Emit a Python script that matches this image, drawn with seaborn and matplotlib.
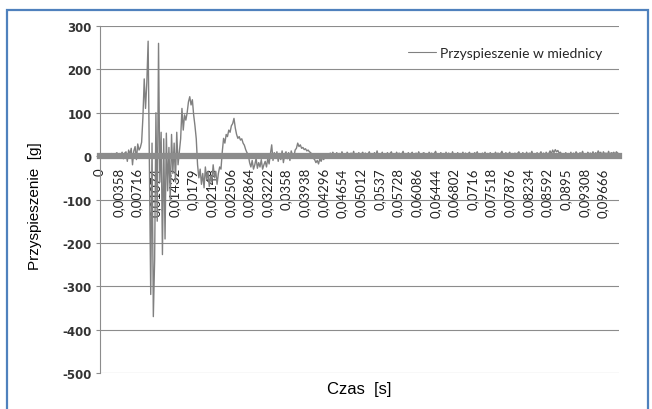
import numpy as np
import pandas as pd
import matplotlib
matplotlib.use("Agg")
import matplotlib.pyplot as plt
import matplotlib.patches as mpatches
import seaborn as sns

# ---------------------------------------------------------------------------
# Data (acceleration in g, one sample every 0.25 ms)
# ---------------------------------------------------------------------------
DT = 0.00025

pre_impact = [2, -3, 4, 1, -2, 5, 0, 3, -4, 6, 2, -1, 5, 8, -3, 6, 2, 9, -6, 7,
              10, -12, 14, 4, 18, -20, 12, 22, -8, 28, 14, 20, 32]
impact = [90, 178, 110, 170, 265, -20, -319,
          30, -370, -240, 100, -150, 260, -60, 55, -227, 40, -191, 53, -80, 20,
          -100, 50, -40, 30, -60, 55,
          -20, 10, 40, 110, 60, 95, 83, 100, 125, 137, 118, 130, 95, 70, 40,
          -20, -50, -30, -65, -40]
rebound = [-73, -25, -55, -35, -70, -45, -60, -20, -50, -35, -65, -40, -25, -30,
           10, 41, 30, 50, 45, 60,
           55, 70, 75, 87, 65, 50, 41, 45, 37, 40, 30, 25, 15, 8, 3, -15, -25,
           -10, -30, -20,
           -5, -28, -15, -25, -8, -30, -20, -12, -25, -5, -18, 5, 26, -10, 8,
           -5, 10, -12, 6, -8,
           12, -15, 4, 10, -6, 8, -10, 12, 2, -4, 14, 18, 30, 22, 26, 18, 20,
           15, 17, 12,
           14, 10, 8, 2, -5, -8, -15, -10, -18, -6, -12, -3, -8, 2, -4, 5, -2,
           7, 1, 9]
settle = [3, -2, 8, 0, 6, -4, 10, 2, 5, -1, 9, 4, -3, 7, 1, 11, -2, 6, 3, 8,
          -1, 5, 9, 0, 7, -3, 4, 10, 2, 6, -2, 8, 1, 12, -1, 5, 3, 9, -4, 6,
          2, 8, -1, 6, 10, 0, 4, -3, 9, 3, 7, -2, 5, 11, 1, 6, -1, 8, 2, 5,
          9, -2, 4, 7, 0, 10, 3, -3, 6, 8, 1, 5, -1, 9, 4, 7, -2, 6, 11, 2,
          5, -1, 8, 3, 6, -3, 9, 1, 7, 4, -2, 10, 2, 5, 0, 8, -1, 6, 3, 9,
          1, 7, -2, 5, 9, 2, 6, -1, 8, 4, 10, 0, 5, -3, 7, 3, 9, 1, 6, -2,
          8, 2, 5, -1, 9, 4, 7, 0, 6, 11, 2, -2, 8, 3, 5, 9, -1, 6, 4, 7,
          0, 6, 10, 3, -2, 8, 5, 1, 9, -1, 7, 4, 11, 2, 6, -3, 8, 3, 5, 10,
          2, 7, -1, 9, 4, 6, 12, 5, 14, 8, 15, 10, 13, 7, 9, 3, 6, -1, 8, 4,
          6, 1, 9, -2, 7, 3, 10, 5, 0, 8, 4, 11, 2, 6, -1, 9, 5, 7, 3, 10,
          1, 8, 4, 12, 6, 9, -1, 10, 5, 7, 3, 11, 2, 8, 6, 9, 4, 10, 7, 5]

tick_times = [0, 0.00358, 0.00716, 0.01074, 0.01432, 0.0179, 0.02148, 0.02506,
              0.02864, 0.03222, 0.0358, 0.03938, 0.04296, 0.04654, 0.05012,
              0.0537, 0.05728, 0.06086, 0.06444, 0.06802, 0.0716, 0.07518,
              0.07876, 0.08234, 0.08592, 0.0895, 0.09308, 0.09666]
y_ticks = [300, 200, 100, 0, -100, -200, -300, -400, -500]

SERIES_LABEL = "Przyspieszenie w miednicy"
LINE_COLOR = "#808080"
GRID_COLOR = "#8c8c8c"
FRAME_COLOR = "#4f81bd"

accel = pre_impact + impact + rebound + settle
df = pd.DataFrame({"czas": np.arange(len(accel)) * DT, "a": accel})

# ---------------------------------------------------------------------------
sns.set_theme(style="white")
plt.rcParams["font.family"] = ["Liberation Sans", "DejaVu Sans"]
plt.rcParams["axes.unicode_minus"] = False

fig = plt.figure(figsize=(6.52, 4.10), dpi=100)
ax = fig.add_axes([100 / 652, 1 - 374 / 410, 519 / 652, 347 / 410])

sns.lineplot(data=df, x="czas", y="a", ax=ax, color=LINE_COLOR,
             linewidth=1.0, label=SERIES_LABEL, legend=False)

ax.set_xlim(0, df["czas"].iloc[-1])
ax.set_ylim(-500, 300)
ax.set_yticks(y_ticks)
ax.yaxis.grid(True, color=GRID_COLOR, linewidth=0.8)
ax.xaxis.grid(False)

# category axis crossing at zero, drawn as a thick grey band
for side in ["top", "right"]:
    ax.spines[side].set_visible(False)
ax.spines["bottom"].set_position(("data", 0))
ax.spines["bottom"].set_linewidth(4.5)
ax.spines["bottom"].set_color(GRID_COLOR)
ax.spines["left"].set_color(GRID_COLOR)
ax.spines["left"].set_linewidth(0.8)

ax.set_xticks(tick_times)
ax.set_xticklabels([f"{v:g}".replace(".", ",") for v in tick_times],
                   rotation=90, family="Lato", fontsize=9.5, color="#222222")
ax.tick_params(axis="x", length=0, pad=8)
ax.tick_params(axis="y", left=True, length=3, width=0.8, color=GRID_COLOR, pad=3)
for lbl in ax.get_yticklabels():
    lbl.set_family("DejaVu Sans")
    lbl.set_fontweight("bold")
    lbl.set_fontsize(8.5)
    lbl.set_color("#333333")

ax.set_ylabel("Przyspieszenie  [g]", fontsize=11, color="black")
ax.yaxis.set_label_coords(-0.125, 0.484)
ax.yaxis.label.set_va("center")
ax.set_xlabel("Czas  [s]", fontsize=12, color="black")
ax.xaxis.set_label_coords(0.5, -0.046)
ax.xaxis.label.set_va("center")

handle = plt.Line2D([], [], color=LINE_COLOR, linewidth=0.8)
fig.legend([handle], [SERIES_LABEL], loc="center left",
           bbox_to_anchor=(408 / 652, 1 - 54 / 410), frameon=False,
           borderpad=0, borderaxespad=0, handlelength=2.0, handletextpad=0.3,
           prop={"family": "Lato", "size": 10})

# outer chart frame
fig.patches.append(mpatches.Rectangle(
    (7 / 652, -0.05), 641 / 652, 1 - 11 / 410 + 0.05,
    transform=fig.transFigure, fill=False, edgecolor=FRAME_COLOR,
    linewidth=1.6, clip_on=False))

fig.savefig("out.png", dpi=100)
